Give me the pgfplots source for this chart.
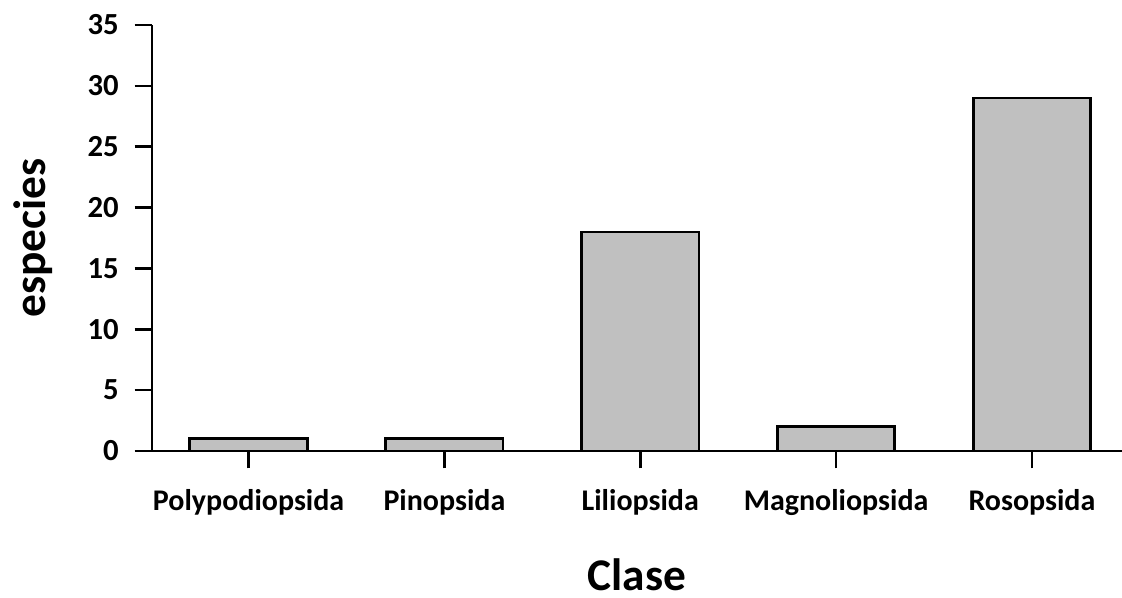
\documentclass[border=0pt]{standalone}
\usepackage{pgfplots}
\pgfplotsset{compat=1.18}
\usepackage{fontspec}
\setmainfont{Carlito}
\begin{document}
\begin{tikzpicture}
\useasboundingbox (-114pt,-110.25pt) rectangle (727.5pt,338.25pt);
\begin{axis}[
  scale only axis,
  width=727.5pt, height=319.5pt,
  xmin=-0.493, xmax=4.46,
  ymin=0, ymax=35,
  ytick={0,5,10,15,20,25,30,35},
  xtick={0,1,2,3,4},
  xticklabels={Polypodiopsida,Pinopsida,Liliopsida,Magnoliopsida,Rosopsida},
  axis x line*=bottom, axis y line*=left,
  axis line style={line width=2pt, -},
  tick style={line width=2pt, black},
  tick align=outside,
  major tick length=13pt,
  ytick pos=left, xtick pos=bottom,
  /pgf/number format/assume math mode=true,
  yticklabel style={font=\fontsize{23}{26}\selectfont\bfseries, anchor=east, xshift=-8.5pt},
  xticklabel style={font=\fontsize{22.5}{26}\selectfont\bfseries, anchor=north, yshift=-12pt},
  xlabel={Clase}, ylabel={especies},
  every axis x label/.style={at={(rel axis cs:0.5,0)}, anchor=south, inner sep=0pt, yshift=-105pt, font=\fontsize{34}{38}\selectfont\bfseries},
  every axis y label/.style={at={(rel axis cs:0,0.5)}, anchor=center, rotate=90, yshift=89.25pt, font=\fontsize{34}{38}\selectfont\bfseries},
  clip=false,
]
\addplot[ybar, bar width=0.6, fill={rgb,255:red,192;green,192;blue,192}, draw=black, line width=2pt]
  coordinates {(0,1) (1,1) (2,18) (3,2) (4,29)};
\end{axis}
\end{tikzpicture}
\end{document}
